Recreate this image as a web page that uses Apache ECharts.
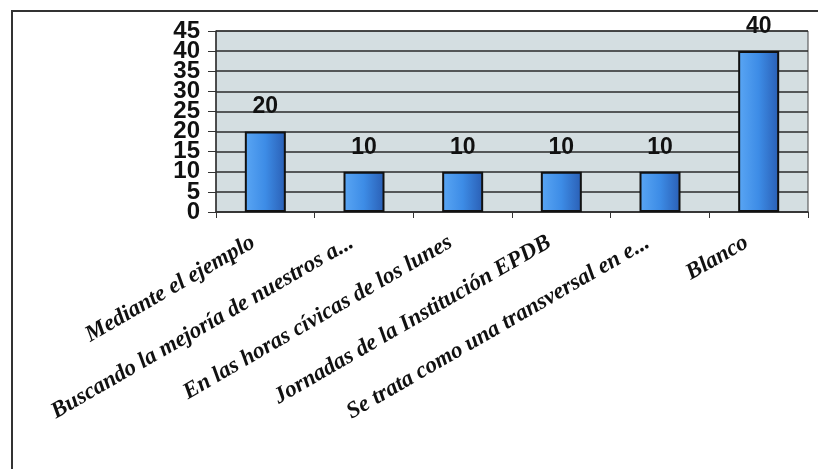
<!DOCTYPE html>
<html>
<head>
<meta charset="utf-8">
<script src="https://cdn.jsdelivr.net/npm/echarts@6/dist/echarts.min.js"></script>
<style>
  html, body { margin: 0; padding: 0; background: #fff; }
  #chart { width: 818px; height: 469px; }
</style>
</head>
<body>
<div id="chart"></div>
<script>
const categories = [
  'Mediante el ejemplo',
  'Buscando la mejoría de nuestros a...',
  'En las horas cívicas de los lunes',
  'Jornadas de la Institución EPDB',
  'Se trata como una transversal en e...',
  'Blanco'
];
const values = [20, 10, 10, 10, 10, 40];
const yTicks = { min: 0, max: 45, step: 5 };

const chart = echarts.init(document.getElementById('chart'));

const barFill = new echarts.graphic.LinearGradient(0, 0, 1, 0, [
  { offset: 0, color: '#5aa6f4' },
  { offset: 0.5, color: '#3d8ce6' },
  { offset: 1, color: '#2a5eb4' }
]);

// las etiquetas del eje Y se tocan; se reparten en dos ejes superpuestos
// para que ECharts no oculte ninguna por solapamiento
const yLabelStyle = {
  margin: 16,
  color: '#111',
  fontFamily: 'Liberation Sans',
  fontWeight: 'bold',
  fontSize: 24,
  showMinLabel: true,
  showMaxLabel: true
};

chart.setOption({
  backgroundColor: '#ffffff',
  animation: false,
  // marco exterior del gráfico (escaneado)
  graphic: [
    {
      type: 'polyline',
      shape: { points: [[12, 470], [12, 11], [820, 11]] },
      style: { stroke: '#333', lineWidth: 2, fill: null }
    }
  ],
  grid: {
    left: 216,
    right: 10,
    top: 31,
    bottom: 257,
    containLabel: false,
    outerBoundsMode: 'none',
    show: true,
    backgroundColor: '#d4dee1',
    borderColor: '#444',
    borderWidth: 1
  },
  xAxis: {
    type: 'category',
    data: categories,
    axisLine: { lineStyle: { color: '#333', width: 1.5 } },
    axisTick: { show: true, length: 6, lineStyle: { color: '#333' } },
    axisLabel: {
      rotate: 30,
      interval: 0,
      margin: 22,
      padding: [0, 14, 0, 0],
      color: '#111',
      fontFamily: 'Liberation Serif',
      fontStyle: 'italic',
      fontWeight: 'bold',
      fontSize: 23
    }
  },
  yAxis: [
    {
      type: 'value',
      position: 'left',
      min: yTicks.min,
      max: yTicks.max,
      interval: yTicks.step,
      axisLine: { show: true, lineStyle: { color: '#333', width: 1.5 } },
      axisTick: { show: true, length: 8, lineStyle: { color: '#333' } },
      axisLabel: Object.assign({}, yLabelStyle, {
        formatter: v => (v % 10 === 5 ? String(v) : '')
      }),
      splitLine: { show: true, lineStyle: { color: '#2a2a2a', width: 1.5 } }
    },
    {
      type: 'value',
      position: 'left',
      offset: 0,
      min: yTicks.min,
      max: yTicks.max,
      interval: yTicks.step,
      axisLine: { show: false },
      axisTick: { show: false },
      splitLine: { show: false },
      axisLabel: Object.assign({}, yLabelStyle, {
        formatter: v => (v % 10 === 0 ? String(v) : '')
      })
    }
  ],
  series: [
    {
      type: 'bar',
      yAxisIndex: 0,
      data: values,
      barWidth: 41,
      itemStyle: {
        color: barFill,
        borderColor: '#111',
        borderWidth: 2
      },
      label: {
        show: true,
        position: 'top',
        distance: 13,
        color: '#111',
        fontFamily: 'Liberation Sans',
        fontWeight: 'bold',
        fontSize: 23
      }
    }
  ]
});
</script>
</body>
</html>
